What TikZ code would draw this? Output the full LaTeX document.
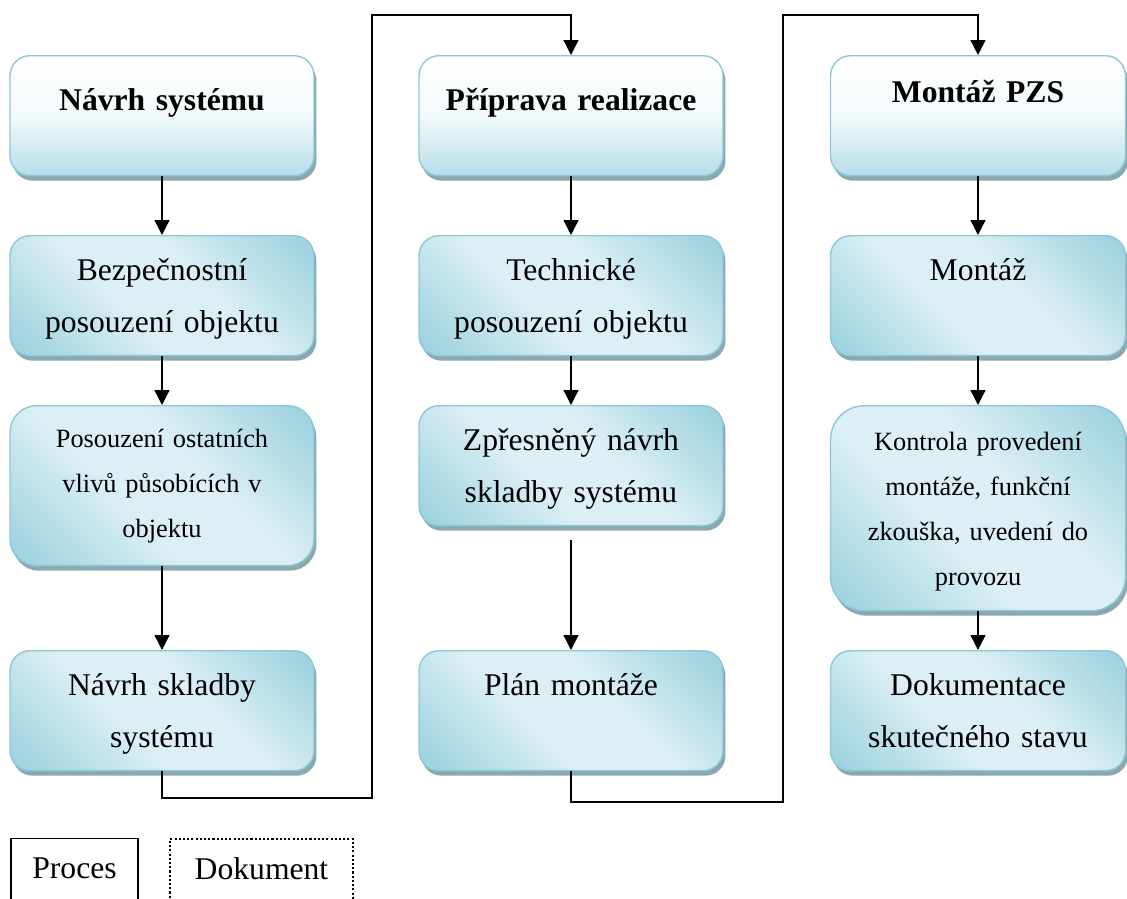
\documentclass[tikz,border=0pt]{standalone}
\usepackage{fontspec}
\setmainfont{Liberation Serif}
\usetikzlibrary{arrows.meta, shadows}

\definecolor{boxedge}{RGB}{140,200,216}
\definecolor{boxdark}{RGB}{146,205,220}
\definecolor{boxlight}{RGB}{220,239,244}
\definecolor{boxtitle}{RGB}{183,221,232}
\definecolor{boxshadow}{RGB}{138,168,176}

\pgfdeclareverticalshading{stageshade}{100bp}{color(0bp)=(boxdark); color(12bp)=(boxdark);
    color(42bp)=(boxlight); color(58bp)=(boxlight); color(88bp)=(boxdark); color(100bp)=(boxdark)}

\begin{document}
\begin{tikzpicture}[
        x=0.02cm, y=-0.02cm,
        base/.style={anchor=north, rounded corners=0.4cm, draw=boxedge, line width=0.8pt,
            align=center, inner xsep=0pt, inner ysep=0pt, text height=0.9cm, text depth=1.5cm,
            general shadow={shadow xshift=0.05cm, shadow yshift=-0.1cm, fill=boxshadow}},
        wide/.style={text width=6.08cm},
        narrow/.style={text width=5.9cm},
        head/.style={base, top color=white, bottom color=boxtitle, middle color=white!65!boxlight,
            font=\fontsize{18}{29.5}\selectfont\bfseries},
        stage/.style={base, shade, shading=stageshade, shading angle=135,
            font=\fontsize{18}{29.5}\selectfont},
        small/.style={font=\fontsize{15}{25.5}\selectfont},
        arr/.style={-{Triangle[length=0.3cm, width=0.3cm]}, line width=0.8pt},
        legend/.style={anchor=north, draw, line width=0.8pt, align=center, inner sep=0pt,
            text height=0.8cm, text depth=0.7cm, font=\fontsize{18}{22}\selectfont}
    ]
    \useasboundingbox (0,0) rectangle (1127,899);

    % Column 1
    \node[head, wide, text height=1.1cm, text depth=1.3cm] (navrh) at (162,55) {Návrh systému};
    \node[stage, wide] (bezpecnost) at (162,235) {Bezpečnostní\\posouzení objektu};
    \node[stage, small, wide, rounded corners=0.53cm, text height=0.84cm, text depth=2.36cm] (vlivy) at (162,405) {Posouzení ostatních\\vlivů působících v\\objektu};
    \node[stage, wide] (skladba) at (162,650) {Návrh skladby\\systému};

    % Column 2
    \node[head, wide, text height=1.1cm, text depth=1.3cm] (priprava) at (571,55) {Příprava realizace};
    \node[stage, wide] (technicke) at (571,235) {Technické\\posouzení objektu};
    \node[stage, wide] (zpresneny) at (571,405) {Zpřesněný návrh\\skladby systému};
    \node[stage, wide] (plan) at (571,650) {Plán montáže};

    % Column 3
    \node[head, narrow, text height=0.94cm, text depth=1.46cm] (pzs) at (978,55) {Montáž PZS};
    \node[stage, narrow] (montaz) at (978,235) {Montáž};
    \node[stage, small, narrow, rounded corners=0.68cm, text depth=3.2cm] (kontrola) at (978,405) {Kontrola provedení\\montáže, funkční\\zkouška, uvedení do\\provozu};
    \node[stage, narrow] (dokumentace) at (978,650) {Dokumentace\\skutečného stavu};

    % Arrows inside columns
    \draw[arr] (navrh) -- (bezpecnost);
    \draw[arr] (bezpecnost) -- (vlivy);
    \draw[arr] (vlivy) -- (skladba);
    \draw[arr] (priprava) -- (technicke);
    \draw[arr] (technicke) -- (zpresneny);
    \draw[arr, shorten <=0.28cm] (zpresneny) -- (plan);
    \draw[arr] (pzs) -- (montaz);
    \draw[arr] (montaz) -- (kontrola);
    \draw[arr] (kontrola) -- (dokumentace);

    % Links between columns
    \coordinate (lowA) at (372,798);
    \coordinate (highA) at (372,15);
    \coordinate (lowB) at (783,802);
    \coordinate (highB) at (783,15);
    \draw[arr] (skladba.south) |- (lowA) -- (highA) -| (priprava.north);
    \draw[arr] (plan.south) |- (lowB) -- (highB) -| (pzs.north);

    % Legend
    \node[legend, text width=2.54cm] (proces) at (74.5,838) {Proces};
    \node[legend, text width=3.66cm, line width=1.2pt, dash pattern=on 1.2pt off 1.2pt] (dokument) at (261.5,838) {Dokument};
\end{tikzpicture}
\end{document}
